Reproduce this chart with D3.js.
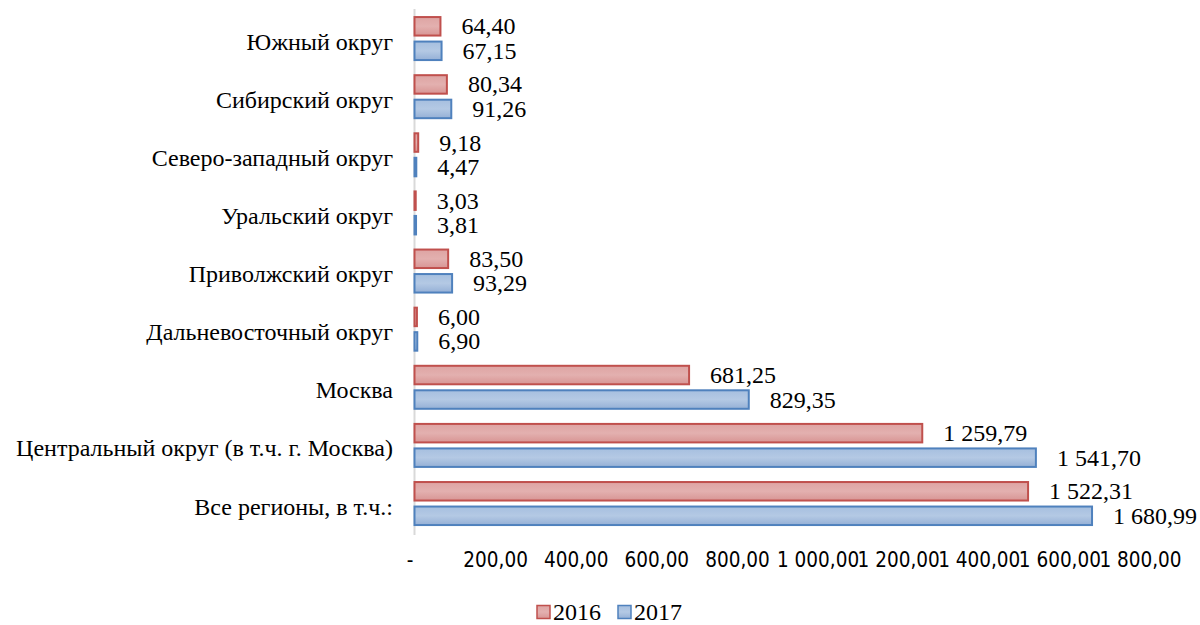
<!DOCTYPE html>
<html>
<head>
<meta charset="utf-8">
<script src="https://cdn.jsdelivr.net/npm/d3@7"></script>
<style>
  html, body { margin: 0; padding: 0; background: #fff; }
  svg { display: block; }
  .cat { font-family: "Liberation Serif", "Times New Roman", serif; font-size: 24px; fill: #000; }
  .val { font-family: "Liberation Serif", "Times New Roman", serif; font-size: 24px; fill: #000; }
  .tick text { font-family: "DejaVu Sans Condensed", "Arial Narrow", sans-serif; font-size: 20.5px; fill: #000; }
  .legend text { font-family: "Liberation Serif", "Times New Roman", serif; font-size: 24px; fill: #000; }
</style>
</head>
<body>
<svg id="chart" width="1200" height="625"></svg>
<script>
// Categories, top to bottom
const categories = [
  "Южный округ",
  "Сибирский округ",
  "Северо-западный округ",
  "Уральский округ",
  "Приволжский округ",
  "Дальневосточный округ",
  "Москва",
  "Центральный округ (в т.ч. г. Москва)",
  "Все регионы, в т.ч.:"
];
const seriesNames = ["2016", "2017"];
const values2016 = [64.40, 80.34, 9.18, 3.03, 83.50, 6.00, 681.25, 1259.79, 1522.31];
const values2017 = [67.15, 91.26, 4.47, 3.81, 93.29, 6.90, 829.35, 1541.70, 1680.99];
const tickValues = [0, 200, 400, 600, 800, 1000, 1200, 1400, 1600, 1800];

const seriesValues = [values2016, values2017];
const rows = categories.map((c, i) => ({
  category: c,
  values: seriesNames.map((s, k) => ({ series: s, value: seriesValues[k][i] }))
}));

const ru = d3.formatLocale({ decimal: ",", thousands: " ", grouping: [3], currency: ["", ""] });
const fmt = ru.format(",.2f");
const tickFmt = v => v === 0 ? "-" : fmt(v);

const svg = d3.select("#chart");

const x = d3.scaleLinear().domain([0, 1800]).range([414.5, 1140]);
const y = d3.scaleBand().domain(categories).range([9.5, 532.6])
  .paddingInner(0.26).paddingOuter(0.13);
const ySub = d3.scaleBand().domain(seriesNames).range([0, y.bandwidth()]).paddingInner(0.245);

const fills = { "2016": "url(#grad2016)", "2017": "url(#grad2017)" };
const strokes = { "2016": "#c0504d", "2017": "#4f81bd" };

// Gradient fills for bars
const defs = svg.append("defs");
const gradStops = {
  "2016": ["#dea4a3", "#e3b0af", "#d89594"],
  "2017": ["#a6bfdf", "#b4c9e4", "#95b0d6"]
};
seriesNames.forEach(s => {
  const g = defs.append("linearGradient").attr("id", "grad" + s)
    .attr("x1", 0).attr("y1", 0).attr("x2", 0).attr("y2", 1);
  g.append("stop").attr("offset", "0%").attr("stop-color", gradStops[s][0]);
  g.append("stop").attr("offset", "50%").attr("stop-color", gradStops[s][1]);
  g.append("stop").attr("offset", "100%").attr("stop-color", gradStops[s][2]);
});

// Vertical axis line at zero
svg.append("line")
  .attr("x1", x(0)).attr("x2", x(0))
  .attr("y1", 9).attr("y2", 535)
  .attr("stroke", "#d9d9d9").attr("stroke-width", 2);

// Category labels
svg.append("g").selectAll("text").data(categories).join("text")
  .attr("class", "cat")
  .attr("x", 393)
  .attr("y", d => y(d) + y.bandwidth() / 2 + 3)
  .attr("text-anchor", "end")
  .attr("dominant-baseline", "central")
  .text(d => d);

// Bars
const groups = svg.append("g").selectAll("g").data(rows).join("g")
  .attr("transform", d => `translate(0,${y(d.category)})`);

groups.selectAll("rect").data(d => d.values).join("rect")
  .attr("x", x(0))
  .attr("y", d => ySub(d.series))
  .attr("width", d => Math.max(0, x(d.value) - x(0)))
  .attr("height", ySub.bandwidth())
  .attr("fill", d => fills[d.series])
  .attr("stroke", d => strokes[d.series])
  .attr("stroke-width", 2);

// Value labels
groups.selectAll("text").data(d => d.values).join("text")
  .attr("class", "val")
  .attr("x", d => x(d.value) + 21)
  .attr("y", d => ySub(d.series) + ySub.bandwidth() / 2)
  .attr("dominant-baseline", "central")
  .text(d => fmt(d.value));

// X axis tick labels
const xAxis = d3.axisBottom(x).tickValues(tickValues).tickFormat(tickFmt).tickSize(0).tickPadding(0);
const axisG = svg.append("g").attr("transform", "translate(0,552)").call(xAxis);
axisG.select(".domain").remove();
axisG.selectAll(".tick text").attr("dy", "0.71em").attr("fill", "#000");
axisG.selectAll(".tick").filter(d => d === 0).select("text").attr("dx", -5);

// Legend
const legend = svg.append("g").attr("class", "legend");
const legendX = [536, 617];
seriesNames.forEach((s, i) => {
  const g = legend.append("g").attr("transform", `translate(${legendX[i]},612)`);
  g.append("rect").attr("x", 1).attr("y", -6.5).attr("width", 13).attr("height", 13)
    .attr("fill", fills[s]).attr("stroke", strokes[s]).attr("stroke-width", 1.5);
  g.append("text").attr("x", 17).attr("y", 0).attr("dominant-baseline", "central").text(s);
});
</script>
</body>
</html>
